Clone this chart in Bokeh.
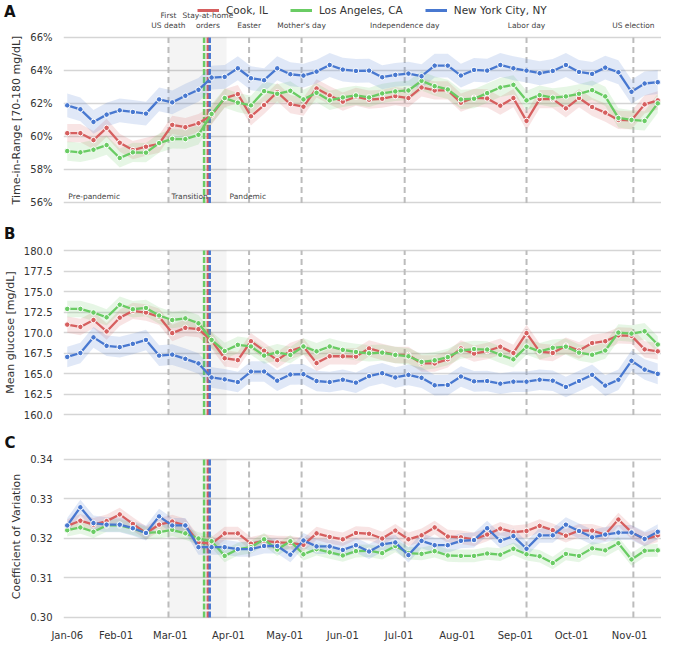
import numpy as np
import pandas as pd
from bokeh.plotting import figure
from bokeh.models import (Range1d, FixedTicker, PrintfTickFormatter, DatetimeTickFormatter,
                          Legend, LegendItem)
from bokeh.layouts import column
from bokeh.embed import file_html
from bokeh.resources import INLINE
from bokeh.core.properties import value

# ---------------- data ----------------
week_starts = ["2020-01-06", "2020-01-13", "2020-01-20", "2020-01-27", "2020-02-03", "2020-02-10",
               "2020-02-17", "2020-02-24", "2020-03-02", "2020-03-09", "2020-03-16", "2020-03-23",
               "2020-03-30", "2020-04-06", "2020-04-13", "2020-04-20", "2020-04-27", "2020-05-04",
               "2020-05-11", "2020-05-18", "2020-05-25", "2020-06-01", "2020-06-08", "2020-06-15",
               "2020-06-22", "2020-06-29", "2020-07-06", "2020-07-13", "2020-07-20", "2020-07-27",
               "2020-08-03", "2020-08-10", "2020-08-17", "2020-08-24", "2020-08-31", "2020-09-07",
               "2020-09-14", "2020-09-21", "2020-09-28", "2020-10-05", "2020-10-12", "2020-10-19",
               "2020-10-26", "2020-11-02", "2020-11-09", "2020-11-16"]

series_names = ["Cook, IL", "Los Angeles, CA", "New York City, NY"]

tir_cook = [60.22, 60.22, 59.8, 60.54, 59.64, 59.2, 59.4, 59.58, 60.72, 60.58,
            60.82, 61.3, 62.34, 62.58, 61.24, 61.92, 62.7, 61.98, 61.82, 62.92,
            62.5, 62.12, 62.42, 62.24, 62.3, 62.46, 62.34, 62.98, 62.8, 62.8,
            62.06, 62.36, 62.32, 61.88, 62.34, 60.96, 62.28, 62.28, 61.72, 62.34,
            61.8, 61.46, 61.02, 61.0, 61.96, 62.2]
tir_la = [59.14, 59.06, 59.22, 59.5, 58.72, 59.06, 59.04, 59.62, 59.88, 59.86,
          60.12, 61.38, 62.34, 62.06, 61.9, 62.76, 62.6, 62.78, 62.26, 62.66,
          62.2, 62.38, 62.5, 62.38, 62.62, 62.74, 62.8, 63.38, 63.06, 62.86,
          62.26, 62.3, 62.64, 62.98, 63.14, 62.2, 62.52, 62.36, 62.44, 62.6,
          62.82, 62.44, 61.14, 61.02, 60.96, 62.02]
tir_ny = [61.9, 61.66, 60.9, 61.34, 61.6, 61.5, 61.4, 62.26, 62.08, 62.48,
          62.84, 63.58, 63.62, 64.14, 63.54, 63.42, 64.14, 63.78, 63.7, 63.94,
          64.34, 64.06, 63.98, 64.0, 63.6, 63.74, 63.82, 63.66, 64.3, 64.3,
          63.7, 64.04, 64.0, 64.34, 64.14, 64.0, 63.84, 63.98, 64.34, 63.92,
          63.8, 64.18, 63.9, 62.72, 63.22, 63.3]

mg_cook = [170.99, 170.71, 171.55, 170.16, 171.83, 172.66, 172.46, 171.94, 169.96, 170.6,
           170.44, 169.05, 166.9, 166.67, 168.97, 167.82, 166.67, 167.78, 168.33, 166.31,
           167.14, 167.14, 167.1, 168.1, 167.66, 167.3, 167.3, 166.27, 166.27, 166.77,
           168.1, 167.46, 167.78, 168.3, 167.54, 169.96, 167.7, 167.54, 168.43, 167.84,
           168.75, 168.97, 169.68, 169.62, 167.98, 167.74]
mg_la = [172.9, 172.9, 172.46, 171.87, 173.41, 172.86, 173.02, 172.1, 171.55, 171.75,
         171.15, 169.13, 167.78, 168.53, 168.33, 167.22, 167.62, 167.3, 168.33, 167.74,
         168.33, 167.92, 167.66, 167.5, 167.58, 167.3, 167.14, 166.45, 166.65, 167.04,
         167.84, 168.02, 167.96, 167.32, 166.77, 168.31, 167.74, 168.17, 168.31, 167.58,
         167.32, 167.84, 170.02, 169.9, 170.18, 168.57]
mg_ny = [167.06, 167.54, 169.44, 168.41, 168.25, 168.65, 169.13, 167.22, 167.34, 166.83,
         166.27, 164.56, 164.33, 164.0, 165.28, 165.28, 164.17, 164.92, 164.96, 164.13,
         164.0, 164.29, 163.93, 164.72, 165.08, 164.56, 164.88, 164.52, 163.61, 163.65,
         164.68, 164.09, 164.13, 163.81, 164.05, 164.05, 164.29, 164.17, 163.41, 164.13,
         164.88, 163.57, 164.29, 166.59, 165.52, 165.0]

cv_cook = [0.3232, 0.3245, 0.3235, 0.3244, 0.3261, 0.3237, 0.3214, 0.3235, 0.3243, 0.3233,
           0.3190, 0.3187, 0.3213, 0.3213, 0.3187, 0.3194, 0.3190, 0.3189, 0.3184, 0.3213,
           0.3204, 0.3198, 0.3214, 0.3212, 0.3200, 0.3220, 0.3198, 0.3208, 0.3228, 0.3205,
           0.3203, 0.3198, 0.3210, 0.3225, 0.3216, 0.3219, 0.3232, 0.3221, 0.3207, 0.3220,
           0.3220, 0.3210, 0.3248, 0.3216, 0.3198, 0.3208]
cv_la = [0.3221, 0.3228, 0.3217, 0.3233, 0.3233, 0.3225, 0.3214, 0.3216, 0.3222, 0.3213,
         0.3200, 0.3193, 0.3156, 0.3173, 0.3178, 0.3198, 0.3172, 0.3193, 0.3160, 0.3173,
         0.3165, 0.3157, 0.3168, 0.3169, 0.3163, 0.3181, 0.3163, 0.3161, 0.3168, 0.3157,
         0.3156, 0.3156, 0.3162, 0.3159, 0.3174, 0.3160, 0.3155, 0.3138, 0.3161, 0.3156,
         0.3175, 0.3170, 0.3188, 0.3147, 0.3169, 0.3170]
cv_ny = [0.3233, 0.3279, 0.3239, 0.3235, 0.3235, 0.3226, 0.3214, 0.3256, 0.3233, 0.3233,
         0.3178, 0.3178, 0.3178, 0.3173, 0.3173, 0.3181, 0.3181, 0.3159, 0.3195, 0.3180,
         0.3180, 0.3171, 0.3183, 0.3167, 0.3185, 0.3190, 0.3158, 0.3194, 0.3183, 0.3183,
         0.3194, 0.3196, 0.3226, 0.3194, 0.3206, 0.3174, 0.3208, 0.3208, 0.3235, 0.3219,
         0.3203, 0.3210, 0.3215, 0.3215, 0.3199, 0.3217]

# approximate half-widths of the confidence bands (Cook, LA, NY)
tir_ci = [0.55, 0.58, 0.72]
mg_ci = [1.0, 1.0, 1.25]
cv_ci = [0.0017, 0.0016, 0.0019]

event_dates = ["2020-02-29", "2020-04-12", "2020-05-10", "2020-07-04", "2020-09-07", "2020-11-03"]
event_labels = ["First\nUS death", "Easter", "Mother's day", "Independence day", "Labor day", "US election"]
stay_home_dates = ["2020-03-21", "2020-03-19", "2020-03-22"]   # Cook, LA, NY
stay_home_label = "Stay-at-home\norders"
transition = ["2020-02-29", "2020-03-31"]
period_labels = ["Pre-pandemic", "Transition", "Pandemic"]
period_starts = ["2020-01-06", "2020-03-01", "2020-04-01"]
panel_letters = ["A", "B", "C"]

x_ticks = ["2020-01-06", "2020-02-01", "2020-03-01", "2020-04-01", "2020-05-01", "2020-06-01",
           "2020-07-01", "2020-08-01", "2020-09-01", "2020-10-01", "2020-11-01"]
tir_ticks = [56, 58, 60, 62, 64, 66]
mg_ticks = [160.0, 162.5, 165.0, 167.5, 170.0, 172.5, 175.0, 177.5, 180.0]
cv_ticks = [0.30, 0.31, 0.32, 0.33, 0.34]

# ---------------- style ----------------
colors = ["#d65f5f", "#6acc64", "#4878d0"]
FONT = "DejaVu Sans"
TEXT = "#333333"
W = 661
LEFT = 56


def ms(d):
    return pd.Timestamp(d).value / 1e6


x = pd.to_datetime(week_starts)
XS, XE = ms("2020-01-04"), ms("2020-11-18")
xr = Range1d(start=XS, end=XE)


def strip(height, letter_txt, letter_y):
    """Band above a panel: holds the panel letter (single tick label of an
    otherwise invisible left axis) and free texts."""
    p = figure(width=W, height=height, x_range=xr, y_range=Range1d(0, height),
               x_axis_location=None, y_axis_location="left", output_backend="svg",
               toolbar_location=None, min_border=0, min_border_left=LEFT,
               min_border_right=0, min_border_top=0, min_border_bottom=0,
               background_fill_color="white", border_fill_color="white")
    p.outline_line_color = None
    p.grid.visible = False
    ax = p.yaxis[0]
    ax.ticker = FixedTicker(ticks=[letter_y])
    ax.major_label_overrides = {letter_y: letter_txt}
    ax.axis_line_color = None
    ax.major_tick_line_color = None
    ax.minor_tick_line_color = None
    ax.major_label_text_font = FONT
    ax.major_label_text_font_size = "15px"
    ax.major_label_text_font_style = "bold"
    ax.major_label_text_color = "#111111"
    ax.major_label_standoff = 42
    return p


def make_panel(height, y0, y1, ticks, fmt, ylabel, bottom, show_x):
    p = figure(width=W, height=height, x_axis_type="datetime", x_range=xr,
               y_range=Range1d(y0, y1), output_backend="svg", toolbar_location=None,
               min_border=0, min_border_left=LEFT, min_border_right=0, min_border_top=0,
               min_border_bottom=bottom, background_fill_color="white",
               border_fill_color="white")
    p.outline_line_color = None
    p.xgrid.visible = False
    p.ygrid.ticker = FixedTicker(ticks=ticks)
    p.ygrid.grid_line_color = "#d5d5d5"
    p.ygrid.grid_line_width = 1.6
    p.yaxis.ticker = FixedTicker(ticks=ticks)
    p.yaxis.formatter = PrintfTickFormatter(format=fmt)
    p.yaxis.axis_label = ylabel
    for ax in (p.xaxis[0], p.yaxis[0]):
        ax.axis_line_color = None
        ax.major_tick_line_color = None
        ax.minor_tick_line_color = None
        ax.major_label_text_font = FONT
        ax.major_label_text_font_size = "10px"
        ax.major_label_text_color = TEXT
        ax.axis_label_text_font = FONT
        ax.axis_label_text_font_size = "11px"
        ax.axis_label_text_font_style = "normal"
        ax.axis_label_text_color = TEXT
        ax.major_label_standoff = 5
    p.yaxis.axis_label_standoff = 4
    if show_x:
        p.xaxis.major_label_standoff = 3
        p.xaxis.ticker = FixedTicker(ticks=[ms(t) for t in x_ticks])
        fmt_d = "%b-%d"
        p.xaxis.formatter = DatetimeTickFormatter(days=fmt_d, months=fmt_d, years=fmt_d,
                                                  hours=fmt_d, minutes=fmt_d, seconds=fmt_d,
                                                  milliseconds=fmt_d, microseconds=fmt_d,
                                                  minsec=fmt_d, hourmin=fmt_d,
                                                  strip_leading_zeros=False)
    else:
        p.xaxis.visible = False
    return p


def decorate(p, ybot, ytop):
    p.quad(left=[ms(transition[0])], right=[ms(transition[1])], bottom=ybot, top=ytop,
           fill_color="black", fill_alpha=0.045, line_color=None)
    ex = [ms(d) for d in event_dates]
    p.segment(x0=ex, x1=ex, y0=ybot, y1=ytop, line_color="#bcbcbc", line_width=2,
              line_dash="6 4")
    for d, c in zip(stay_home_dates, colors):
        p.segment(x0=[ms(d)], x1=[ms(d)], y0=ybot, y1=ytop, line_color=c, line_width=2.5,
                  line_dash="6 2")


def draw_series(p, vals, cis):
    for v, hw, c in zip(vals, cis, colors):
        v = np.asarray(v, dtype=float)
        p.varea(x=x, y1=v - hw, y2=v + hw, fill_color=c, fill_alpha=0.17)
    for v, c in zip(vals, colors):
        p.line(x=x, y=v, line_color=c, line_width=2.3)
        p.scatter(x=x, y=v, size=5.5, fill_color=c, line_color="white", line_width=1)


# ---- top strip: letter A, legend, event labels ----
TOP_H = 30
pTop = strip(TOP_H, panel_letters[0], 19)
lab_x = [ms(d) for d in event_dates] + [ms(stay_home_dates[0])]
lab_t = event_labels + [stay_home_label]
pTop.text(x=lab_x, y=0.5, text=lab_t, text_align="center", text_baseline="bottom",
          text_font=value(FONT), text_font_size="7.5px", text_color="#444444",
          text_line_height=1.1)
# legend keys: lines lying below the visible strip (only their legend glyphs show)
dummies = [pTop.line(x=[XS, XE], y=[-100, -100], line_color=c, line_width=3) for c in colors]
legend = Legend(items=[LegendItem(label=n, renderers=[r]) for n, r in zip(series_names, dummies)],
                orientation="horizontal", location=(134, 14), spacing=22,
                label_standoff=7, glyph_width=22, glyph_height=12, label_height=12,
                padding=0, margin=0, background_fill_alpha=0, border_line_alpha=0,
                label_text_font=FONT, label_text_font_size="10.5px", label_text_color=TEXT)
pTop.add_layout(legend)

# ---- panel A ----
pA = make_panel(179, 55.607, 66.423, tir_ticks, "%d%%", "Time-in-Range [70-180 mg/dL]", 0, False)
decorate(pA, tir_ticks[0], tir_ticks[-1])
draw_series(pA, [tir_cook, tir_la, tir_ny], tir_ci)
pA.text(x=[ms(d) + 86400000 * 0.6 for d in period_starts], y=56.39, text=period_labels,
        text_align="left", text_baseline="middle", text_font=value(FONT),
        text_font_size="7.5px", text_color="#444444")

# ---- strip with letter B ----
gapB = strip(34, panel_letters[1], 8)

# ---- panel B ----
pB = make_panel(178, 159.207, 180.854, mg_ticks, "%.1f", "Mean glucose [mg/dL]", 0, False)
decorate(pB, mg_ticks[0], mg_ticks[-1])
draw_series(pB, [mg_cook, mg_la, mg_ny], mg_ci)

# ---- strip with letter C ----
gapC = strip(31, panel_letters[2], 8)

# ---- panel C ----
pC = make_panel(191, 0.29924, 0.34177, cv_ticks, "%.2f", "Coefficient of Variation", 23, True)
decorate(pC, cv_ticks[0], cv_ticks[-1])
draw_series(pC, [cv_cook, cv_la, cv_ny], cv_ci)

layout = column(pTop, pA, gapB, pB, gapC, pC, spacing=0)
open("out.html", "w").write(file_html(layout, INLINE, "Glucose metrics 2020"))
